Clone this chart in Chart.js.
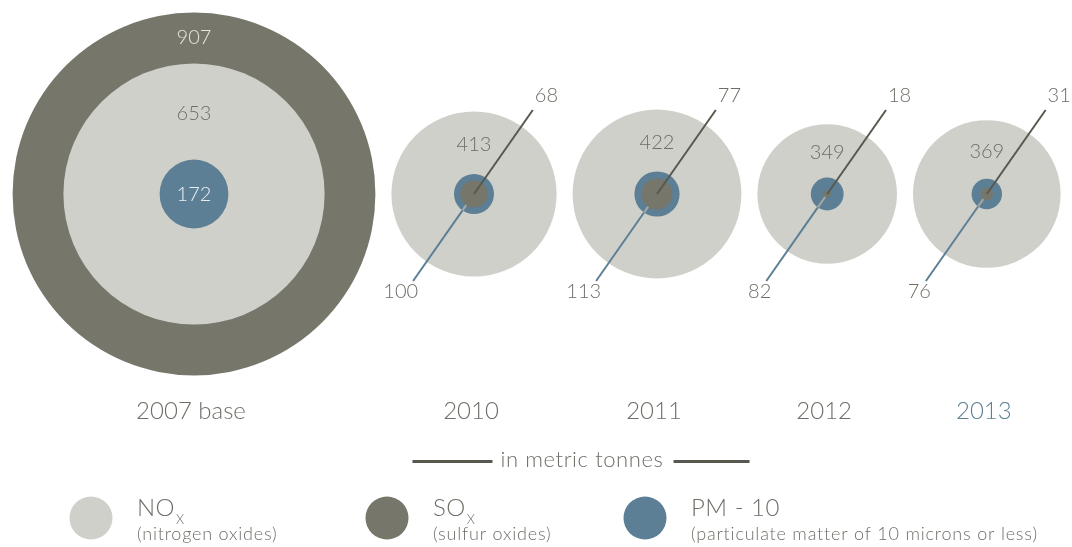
<!DOCTYPE html>
<html>
<head>
<meta charset="utf-8">
<title>Air emissions</title>
<script src="https://cdn.jsdelivr.net/npm/chart.js@4.4.1/dist/chart.umd.min.js"></script>
<style>
  body { margin: 0; background: #fff; }
  #wrap { width: 1072px; height: 547px; }
</style>
</head>
<body>
<div id="wrap"><canvas id="emissions" width="1072" height="547"></canvas></div>
<script>
// emissions in metric tonnes
const years = ['2007 base', '2010', '2011', '2012', '2013'];
const noxValues = [653, 413, 422, 349, 369];
const soxValues = [907, 68, 77, 18, 31];
const pmValues = [172, 100, 113, 82, 76];

const legendNames = ['NO', 'SO', 'PM - 10'];
const legendSubs = ['X', 'X', ''];
const legendNotes = ['(nitrogen oxides)', '(sulfur oxides)', '(particulate matter of 10 microns or less)'];
const unitsText = 'in metric tonnes';

const PX = 0.2;            // circle radius in px per tonne
const GAP = 80;            // space between neighbouring circles, tonnes
const W = 1072, H = 547;
const CENTER_LINE = 194;
const FONT = 'Lato, "Open Sans", sans-serif';
const TEXT = '#6e6e67';
const COLORS = { nox: '#d0d0cb', sox: '#76766b', pm: '#5c7f95' };
const KINDS = ['nox', 'sox', 'pm'];

// pack the groups side by side, each as wide as its biggest circle
const centers = [];
let edge = 63;
years.forEach((y, i) => {
  const r = Math.max(noxValues[i], soxValues[i], pmValues[i]);
  centers.push(edge + r);
  edge += 2 * r + GAP;
});

// one dataset, biggest circle of each group first so smaller ones sit on top
const points = [];
years.forEach((y, i) => {
  const vals = { nox: noxValues[i], sox: soxValues[i], pm: pmValues[i] };
  KINDS.slice().sort((a, b) => vals[b] - vals[a]).forEach(kind => {
    points.push({ x: centers[i], y: 0, r: vals[kind] * PX, kind });
  });
});

const labelPlugin = {
  id: 'circleLabels',
  afterDatasetsDraw(chart) {
    const { ctx, scales: { x, y } } = chart;
    const cy = y.getPixelForValue(0);
    const ang = 55 * Math.PI / 180;
    const c = Math.cos(ang), s = Math.sin(ang), t = Math.tan(ang);
    const topY = 110, botY = 281;
    ctx.save();
    years.forEach((year, i) => {
      const cx = x.getPixelForValue(centers[i]);
      const rN = noxValues[i] * PX, rS = soxValues[i] * PX, rP = pmValues[i] * PX;
      ctx.textAlign = 'center';
      ctx.textBaseline = 'middle';
      ctx.font = `300 20px ${FONT}`;
      ctx.fillStyle = TEXT;
      ctx.fillText(noxValues[i], cx, cy - (rN + rP) / 2 + 2);

      if (rS > rN) {
        // SOx is the outer ring here, PM sits in the middle
        ctx.fillStyle = '#e6e6e1';
        ctx.fillText(soxValues[i], cx, cy - (rS + rN) / 2);
        ctx.fillStyle = '#e9eef1';
        ctx.fillText(pmValues[i], cx, cy + 1);
      } else {
        // SOx leader, up and right from the centre
        const tx = cx + (cy - topY) / t;
        ctx.lineWidth = 2;
        ctx.strokeStyle = '#58584f';
        ctx.beginPath();
        ctx.moveTo(cx, cy);
        ctx.lineTo(tx, topY);
        ctx.stroke();
        ctx.fillStyle = TEXT;
        ctx.textAlign = 'left';
        ctx.fillText(soxValues[i], tx + 2, 96);

        // PM leader, down and left from the PM edge
        const bx = cx - (botY - cy) / t;
        ctx.strokeStyle = '#a8a8a0';
        ctx.beginPath();
        ctx.moveTo(cx - rS * c, cy + rS * s);
        ctx.lineTo(cx - rP * c, cy + rP * s);
        ctx.stroke();
        ctx.strokeStyle = '#5c7f95';
        ctx.beginPath();
        ctx.moveTo(cx - rP * c, cy + rP * s);
        ctx.lineTo(bx, botY);
        ctx.stroke();
        ctx.textAlign = 'right';
        ctx.fillText(pmValues[i], bx + 5, 292);
      }

      // year under each group, latest one highlighted
      ctx.textAlign = 'center';
      ctx.font = `300 24px ${FONT}`;
      ctx.fillStyle = i === years.length - 1 ? '#5c7f95' : TEXT;
      ctx.fillText(year, cx - 3, 411);
    });

    // units caption with rules either side
    ctx.font = `300 22px ${FONT}`;
    ctx.letterSpacing = '0.6px';
    ctx.fillStyle = TEXT;
    ctx.textAlign = 'center';
    ctx.fillText(unitsText, 582, 460);
    const half = ctx.measureText(unitsText).width / 2;
    ctx.fillStyle = '#58584f';
    ctx.fillRect(582 - half - 88, 460, 80, 3);
    ctx.fillRect(582 + half + 10, 460, 76, 3);

    // legend
    const legendX = [91, 387, 645];
    legendNames.forEach((name, i) => {
      const lx = legendX[i];
      ctx.fillStyle = COLORS[KINDS[i]];
      ctx.beginPath();
      ctx.arc(lx, 518, 21.5, 0, Math.PI * 2);
      ctx.fill();
      ctx.fillStyle = TEXT;
      ctx.textAlign = 'left';
      ctx.textBaseline = 'alphabetic';
      ctx.letterSpacing = '0.5px';
      ctx.font = `300 24px ${FONT}`;
      ctx.fillText(name, lx + 46, 516);
      const nw = ctx.measureText(name).width;
      if (legendSubs[i]) {
        ctx.font = `300 13px ${FONT}`;
        ctx.fillText(legendSubs[i], lx + 46 + nw + 1, 524);
      }
      ctx.letterSpacing = '0.8px';
      ctx.font = `300 18px ${FONT}`;
      ctx.fillText(legendNotes[i], lx + 46, 540);
    });
    ctx.restore();
  }
};

new Chart(document.getElementById('emissions'), {
  type: 'bubble',
  data: {
    datasets: [{
      label: 'emissions',
      data: points,
      backgroundColor: ctx => (ctx.raw ? COLORS[ctx.raw.kind] : '#ccc'),
      borderWidth: 0,
      hoverRadius: 0,
      clip: false
    }]
  },
  options: {
    responsive: false,
    animation: false,
    events: [],
    layout: { padding: 0, autoPadding: false },
    plugins: { legend: { display: false }, tooltip: { enabled: false } },
    scales: {
      x: { type: 'linear', display: false, min: 0, max: W / PX },
      y: { type: 'linear', display: false, min: (CENTER_LINE - H) / PX, max: CENTER_LINE / PX }
    }
  },
  plugins: [labelPlugin]
});
</script>
</body>
</html>
